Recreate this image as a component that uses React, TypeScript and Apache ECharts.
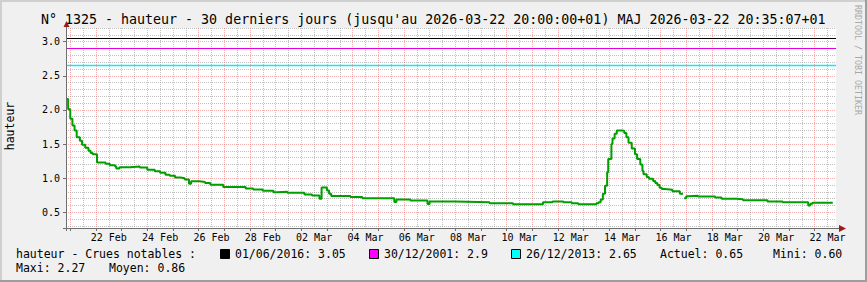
import React, { useEffect, useRef } from 'react';
import * as echarts from 'echarts';

const START = new Date(2026, 1, 20, 20, 0, 0).getTime();
const END = new Date(2026, 2, 22, 20, 0, 0).getTime();
const HOUR = 3600 * 1000;

// elapsed hours since START (2026-02-20 20:00) and water height (m), stepwise
const hoursFromStart = [0, 2, 4, 6, 8, 10, 13, 15, 18, 21, 23, 25, 29, 37, 41, 46, 47, 50, 60, 69, 76, 83, 88, 93, 97, 102, 107, 111, 115, 117, 125, 130, 135, 147, 168, 175, 184, 194, 197, 207, 223, 230, 237, 239, 244, 246, 248, 266, 277, 307, 309, 322, 338, 340, 364, 396, 418, 446, 455, 465, 473, 479, 496, 498, 500, 502, 504, 506, 507, 510, 511, 513, 515, 520, 522, 524, 526, 529, 532, 534, 537, 539, 540, 543, 545, 549, 551, 553, 555, 557, 560, 567, 574, 577, 577, 578, 580, 582, 591, 607, 613, 627, 633, 656, 670, 694, 696, 698, 717];
const hauteurValues = [2.16, 2.01, 1.87, 1.77, 1.7, 1.6, 1.55, 1.49, 1.445, 1.4, 1.37, 1.35, 1.23, 1.21, 1.19, 1.17, 1.143, 1.16, 1.17, 1.155, 1.125, 1.1, 1.08, 1.05, 1.035, 1.01, 1.0, 0.98, 0.92, 0.955, 0.945, 0.93, 0.905, 0.87, 0.85, 0.835, 0.815, 0.795, 0.8, 0.785, 0.76, 0.745, 0.7, 0.865, 0.82, 0.77, 0.74, 0.725, 0.705, 0.65, 0.686, 0.672, 0.622, 0.657, 0.647, 0.632, 0.617, 0.647, 0.66, 0.647, 0.632, 0.617, 0.632, 0.647, 0.686, 0.773, 0.89, 1.085, 1.28, 1.5, 1.58, 1.65, 1.7, 1.69, 1.66, 1.6, 1.52, 1.436, 1.35, 1.28, 1.2, 1.105, 1.056, 1.017, 0.993, 0.96, 0.93, 0.9, 0.86, 0.842, 0.832, 0.807, 0.773, 0.773, null, 0.705, 0.734, 0.744, 0.73, 0.715, 0.7, 0.69, 0.676, 0.66, 0.647, 0.6, 0.625, 0.64, 0.64];

const thresholdDates = ['01/06/2016', '30/12/2001', '26/12/2013'];
const thresholdValues = [3.05, 2.9, 2.65];
const thresholdColors = ['#000000', '#ff00ff', '#00ffff'];
const thresholdLineColors = ['#000000', '#e000e0', '#00f0ff'];

const yTickLabels = [0.5, 1.0, 1.5, 2.0, 2.5, 3.0];
const statNames = ['Actuel', 'Mini', 'Maxi', 'Moyen'];
const statValues = ['0.65', '0.60', '2.27', '0.86'];

const Y_MIN = 0.27;
const Y_MAX = 3.2;
const MONTHS = ['Jan', 'Feb', 'Mar', 'Apr', 'May', 'Jun', 'Jul', 'Aug', 'Sep', 'Oct', 'Nov', 'Dec'];
const MONO = '"DejaVu Sans Mono", monospace';

export default function App() {
  const ref = useRef<HTMLDivElement>(null);
  useEffect(() => {
    document.body.style.margin = '0';
    if (!ref.current) return;
    const chart = echarts.init(ref.current, null, { renderer: 'svg' });

    const data = hoursFromStart.map((h, i) => [START + h * HOUR, hauteurValues[i]]);

    const labelTimes: number[] = [];
    for (let k = 0; k <= 14; k++) labelTimes.push(new Date(2026, 1, 22 + 2 * k, 12).getTime());
    const midnights: number[] = [];
    const noons: number[] = [];
    for (let k = 0; k < 30; k++) {
      midnights.push(new Date(2026, 1, 21 + k, 0).getTime());
      noons.push(new Date(2026, 1, 21 + k, 12).getTime());
    }
    const minorY: number[] = [];
    for (let i = 3; i <= 32; i++) if (i % 5 !== 0) minorY.push(i / 10);

    const pink = 'rgba(235,100,100,0.5)';
    const gray = 'rgba(150,150,150,0.6)';

    const thresholdLines = thresholdValues.map((v, i) => [
      { coord: [START, v], lineStyle: { color: thresholdLineColors[i], width: i === 2 ? 1.4 : 1, type: 'solid' } },
      { coord: [END, v] },
    ]);

    const txt = (text: string, x: number, y: number, size: number, extra: any = {}) => ({
      type: 'text',
      x,
      y,
      silent: true,
      ...extra,
      style: {
        text,
        font: `${size}px ${MONO}`,
        fill: extra.fill || '#000',
        align: extra.align || 'left',
        verticalAlign: 'middle',
        textAlign: extra.align || 'left',
        textVerticalAlign: 'middle',
      },
    });

    const legendX = [220, 369, 511];
    const graphic: any[] = [
      { type: 'rect', shape: { x: 0, y: 0, width: 867, height: 2 }, style: { fill: '#cfcfcf' }, silent: true },
      { type: 'rect', shape: { x: 0, y: 0, width: 2, height: 282 }, style: { fill: '#cfcfcf' }, silent: true },
      { type: 'rect', shape: { x: 0, y: 280, width: 867, height: 2 }, style: { fill: '#9e9e9e' }, silent: true },
      { type: 'rect', shape: { x: 865, y: 0, width: 2, height: 282 }, style: { fill: '#9e9e9e' }, silent: true },
      txt('N° 1325 - hauteur - 30 derniers jours (jusqu\'au 2026-03-22 20:00:00+01) MAJ 2026-03-22 20:35:07+01', 41, 19, 13.3),
      { ...txt('hauteur', 10, 126, 11.5, { align: 'center' }), rotation: Math.PI / 2 },
      { ...txt('RRDTOOL / TOBI OETIKER', 858, 60, 8.3, { align: 'center', fill: '#a8a8a8' }), rotation: -Math.PI / 2 },
      txt('hauteur - Crues notables :', 16, 254, 11.5),
      // axis extensions and arrows
      { type: 'line', shape: { x1: 66.5, y1: 231, x2: 66.5, y2: 25 }, style: { stroke: '#6e6e6e', lineWidth: 1 }, silent: true, z: 10 },
      { type: 'line', shape: { x1: 63, y1: 228.5, x2: 841, y2: 228.5 }, style: { stroke: '#6e6e6e', lineWidth: 1 }, silent: true, z: 10 },
      { type: 'polygon', shape: { points: [[66.5, 21], [63.5, 27], [69.5, 27]] }, style: { fill: '#9a1c1c' }, silent: true, z: 10 },
      { type: 'polygon', shape: { points: [[846, 228.5], [839, 225], [839, 232]] }, style: { fill: '#9a1c1c' }, silent: true, z: 10 },
    ];
    thresholdDates.forEach((d, i) => {
      graphic.push({ type: 'rect', shape: { x: legendX[i] + 0.5, y: 249.5, width: 9, height: 9 }, style: { fill: thresholdColors[i], stroke: '#000', lineWidth: 1 }, silent: true });
      graphic.push(txt(`${d}: ${thresholdValues[i]}`, legendX[i] + 15, 254, 11.5));
    });
    graphic.push(txt(`${statNames[0]}: ${statValues[0]}`, 660, 254, 11.5));
    graphic.push(txt(`${statNames[1]}: ${statValues[1]}`, 773, 254, 11.5));
    graphic.push(txt(`${statNames[2]}: ${statValues[2]}`, 16, 268, 11.5));
    graphic.push(txt(`${statNames[3]}: ${statValues[3]}`, 109, 268, 11.5));

    const xLabelFmt = (v: number) => {
      const d = new Date(v);
      return String(d.getDate()).padStart(2, '0') + ' ' + MONTHS[d.getMonth()];
    };

    chart.setOption({
      animation: false,
      backgroundColor: '#f0f0f0',
      grid: { left: 66, right: 31, top: 28, bottom: 54, show: true, backgroundColor: '#ffffff', borderWidth: 0 },
      xAxis: [
        {
          type: 'value',
          min: START,
          max: END,
          axisLine: { show: false },
          axisTick: { show: true, customValues: midnights, length: 3, lineStyle: { color: '#6e6e6e' } },
          axisLabel: {
            customValues: labelTimes,
            margin: 4,
            fontFamily: MONO,
            fontSize: 10,
            color: '#000',
            formatter: xLabelFmt,
          },
          splitLine: { show: true, lineStyle: { color: pink, width: 1, type: [1, 1] } },
          z: 1,
        },
        {
          type: 'value',
          position: 'bottom',
          min: START,
          max: END,
          axisLine: { show: false },
          axisTick: { show: false, customValues: noons },
          axisLabel: { show: false, customValues: noons },
          splitLine: { show: true, lineStyle: { color: gray, width: 1, type: [1, 1] } },
          z: 0,
        },
      ],
      yAxis: [
        {
          type: 'value',
          min: Y_MIN,
          max: Y_MAX,
          axisLine: { show: false },
          axisTick: { show: true, customValues: yTickLabels, length: 3, lineStyle: { color: '#6e6e6e' } },
          axisLabel: {
            customValues: yTickLabels,
            margin: 6,
            fontFamily: MONO,
            fontSize: 10,
            color: '#000',
            formatter: (v: number) => v.toFixed(1),
          },
          splitLine: { show: true, lineStyle: { color: pink, width: 1, type: [1, 1] } },
          z: 1,
        },
        {
          type: 'value',
          position: 'left',
          min: Y_MIN,
          max: Y_MAX,
          axisLine: { show: false },
          axisTick: { show: false, customValues: minorY },
          axisLabel: { show: false, customValues: minorY },
          splitLine: { show: true, lineStyle: { color: gray, width: 1, type: [1, 1] } },
          z: 0,
        },
      ],
      series: [
        {
          type: 'line',
          data: [],
          silent: true,
          markLine: { silent: true, symbol: ['none', 'none'], label: { show: false }, z: 2, animation: false, data: thresholdLines },
        },
        {
          type: 'line',
          name: 'hauteur',
          data,
          step: 'end',
          showSymbol: false,
          z: 3,
          silent: true,
          lineStyle: { color: '#009f00', width: 2 },
        },
      ],
      graphic,
    });
    return () => chart.dispose();
  }, []);
  return <div ref={ref} style={{ width: 867, height: 282 }} />;
}
